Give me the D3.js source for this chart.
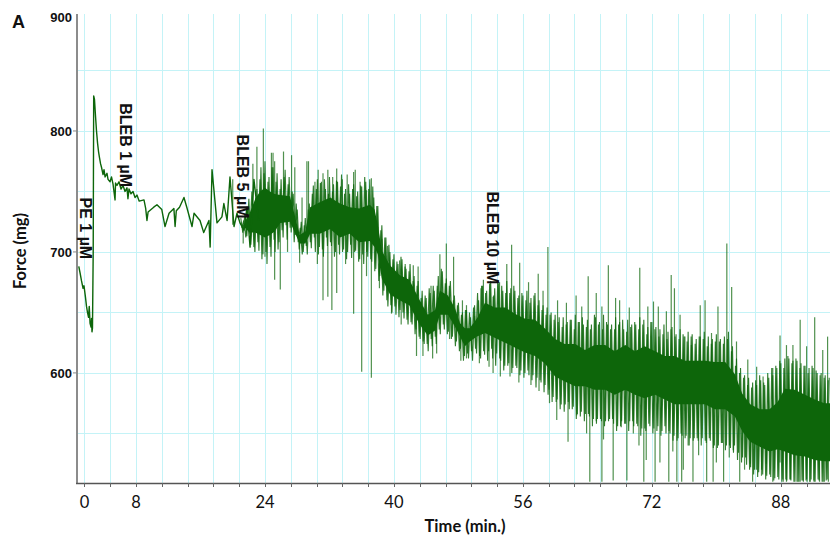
<!DOCTYPE html>
<html><head><meta charset="utf-8">
<script src="https://cdn.jsdelivr.net/npm/d3@7"></script>
<style>body{margin:0;background:#fff}svg{display:block}</style>
</head><body><svg id="c" width="830" height="537"></svg>
<script>
// ---- data (minutes, mg) ----
const earlyT = [0.9,1.05,1.24,1.43,1.55,1.74,1.86,1.98,2.11,2.2,2.3,2.42,2.48,2.54,2.6,2.69,2.75,2.85,2.98,3.1,3.23,3.35,3.47,3.6,3.72,3.91,4.03,4.16,4.4,4.53,4.78,4.96,5.15,5.4,5.46,5.64,5.89,6.14,6.39,6.64,6.88,7.0,7.13,7.38,7.63,7.88,8.12,8.4,8.99,9.2,9.36,9.5,10.2,10.6,11.2,11.6,12.1,12.7,12.85,13.0,13.4,13.95,14.3,14.95,15.2,15.94,16.4,17.05,17.2,17.43,18.05,18.66,18.9,19.3,19.66,20.16,20.53,20.9,21.4,21.77,22.15,22.63,23.2];
const earlyV = [688,683,676,670,672,662,655,650,646,655,641,638,645,634,637,700,829,826,812,800,790,783,778,773,770,764,768,762,765,760,758,762,756,743,757,755,758,752,755,750,753,744,752,748,750,745,747,742,743,736,726,733,737,739,735,721,732,736,721,734,737,745,737,721,732,726,716,726,704,768,724,729,740,726,762,721,732,724,718,737,704,760,726];

// dense core of the noisy trace (upper / lower edge)
const coreT  = [21.5,22.1,22.8,23.4,24.0,24.6,25.2,25.9,27.1,28.3,29.0,29.6,30.8,32.1,33.3,34.5,35.7,37.0,37.6,38.0,38.5,39.5,40.7,41.9,43.2,44.2,45.1,45.7,46.7,47.6,48.2,48.8,49.4,50.3,51.3,52.5,53.8,55.0,56.2,57.5,58.7,60.0,61.2,62.5,63.7,64.9,66.2,67.4,68.7,69.9,71.1,72.4,73.6,74.8,76.1,77.3,78.6,79.8,81.1,82.3,83.2,84.2,85.4,86.6,87.6,88.5,89.7,91.0,92.2,93.4,94.1];
const coreHi = [725,732,744,750,753,750,748,747,746,714,717,737,741,745,740,737,736,739,735,722,701,689,681,677,660,648,652,668,664,653,641,637,637,645,658,654,654,649,645,644,637,628,624,624,619,623,623,618,623,618,622,618,614,614,610,610,610,609,609,599,583,574,570,570,576,587,586,582,578,575,575];
const coreLo = [720,716,716,714,712,714,717,724,725,707,707,715,715,719,712,715,708,709,704,698,678,665,660,656,640,631,635,648,648,638,630,622,626,630,633,629,625,621,617,614,608,597,593,589,589,586,586,582,586,582,579,582,578,574,574,574,574,570,570,564,552,543,539,535,537,535,532,531,528,527,527];

// sampled trace (every 0.25 min from 21 min), alternating crests / troughs
const denseStart = 21.0, denseStep = 0.25;
const denseV = [
728,716,731,713, 744,706,739,700, 752,701,770,698, 775,690,762,696, 770,700,765,708,
760,712,768,710, 762,716,748,714, 735,702,725,700, 728,698,740,703, 755,700,760,704,
758,696,752,705, 762,705,756,700, 758,698,764,702, 752,700,748,695, 756,701,750,694,
754,690,758,696, 760,692,745,686, 738,680,722,668, 712,655,700,650, 698,648,690,652,
694,645,686,640, 690,640,680,636, 676,628,668,624, 662,618,666,622, 668,624,680,632,
684,636,678,634, 676,630,664,626, 658,620,650,614, 652,612,646,610, 656,616,660,612,
672,615,668,618, 676,612,670,616, 674,610,668,606, 676,608,670,604, 668,604,664,602,
664,600,668,598, 662,598,666,596, 660,592,656,590, 654,586,650,580, 648,578,646,574,
646,574,642,570, 644,572,648,566, 642,568,640,566, 644,564,640,562, 646,562,642,560,
648,560,640,562, 640,558,646,556, 642,560,636,558, 644,560,640,556, 640,556,646,554,
644,552,638,556, 642,554,638,556, 636,552,640,550, 634,550,638,548, 632,546,636,548,
630,548,634,546, 632,546,628,544, 630,546,634,542, 630,544,628,540, 632,540,628,542,
630,540,634,538, 622,540,612,534, 604,530,598,524, 596,522,592,520, 590,518,594,516,
590,515,596,514, 598,513,604,512, 608,512,612,511, 612,511,610,510, 610,510,608,511,
606,510,604,512, 604,510,600,511, 600,510,598,512, 596];

// second sampled trace, offset by 0.125 min, alternating troughs / crests
const dense2Start = 21.125, dense2Step = 0.25;
const dense2V = [
720,726,712,735, 715,750,704,745, 708,760,694,765, 700,758,704,770, 710,758,702,752,
718,762,722,756, 720,750,708,740, 708,720,698,722, 705,735,708,748, 712,752,698,757,
702,760,712,748, 708,750,696,759, 706,754,700,748, 694,756,706,752, 700,746,692,755,
698,762,700,752, 694,754,684,738, 676,718,664,712, 660,706,656,694, 655,692,646,696,
650,688,644,684, 642,676,632,672, 630,662,626,664, 624,670,628,672, 630,672,636,686,
640,674,632,672, 628,660,622,656, 618,648,610,652, 616,650,618,654, 620,666,614,672,
618,666,610,674, 620,664,606,676, 612,672,602,666, 606,666,600,672, 606,662,598,666,
596,660,602,658, 594,664,588,656, 594,652,584,648, 582,648,576,644, 576,642,570,638,
568,640,576,644, 570,636,562,642, 564,646,560,638, 566,636,556,648, 558,640,562,636,
556,642,560,636, 562,636,552,640, 556,644,558,634, 552,638,560,642, 558,636,548,640,
554,632,558,642, 550,636,552,630, 548,632,556,628, 552,636,544,630, 544,628,550,632,
546,626,540,630, 544,624,546,630, 540,628,544,622, 546,624,538,626, 538,626,542,624,
536,628,540,618, 534,606,528,600, 526,596,530,590, 520,588,516,594, 514,598,520,592,
512,600,516,604, 511,606,514,610, 510,604,512,614, 512,608,510,612, 510,604,511,606,
511,600,510,606, 510,602,512,598, 510,596,511,594];

const spikeUpT = [20.0,22.5,23.0,23.8,24.8,25.0,25.2,26.3,27.3,27.7,28.6,29.2,29.4,30.2,30.6,31.2,31.8,32.4,32.9,33.6,34.2,35.0,35.2,35.8,36.6,37.2,38.5,39.2,40.7,41.4,42.4,43.0,44.6,45.7,46.5,47.4,48.5,49.0,50.0,50.8,51.1,52.3,53.1,54.0,54.6,55.6,56.7,57.9,58.5,59.1,60.3,61.4,62.6,63.3,64.1,65.1,65.8,66.6,67.5,68.0,69.2,70.5,71.5,72.2,72.8,73.8,74.4,74.8,75.5,76.1,76.9,78.0,78.6,79.4,80.2,81.3,81.9,82.5,83.9,85.0,85.8,87.0,87.9,88.7,89.5,90.4,91.2,92.2,93.2,93.8];
const spikeUpV = [760,773,787,802,782,782,775,783,780,770,745,775,775,758,768,765,768,762,769,760,764,766,768,758,751,761,711,705,693,690,689,688,672,698,707,696,660,656,647,670,677,663,675,690,706,691,675,682,668,704,660,658,664,655,680,666,655,689,662,660,654,687,655,659,655,651,681,670,648,630,623,656,660,633,655,707,671,626,611,605,597,604,631,623,623,644,622,646,619,630];
const spikeDnT = [21.3,24.0,25.2,25.9,26.8,28.3,30.5,31.2,31.8,32.3,32.9,34.0,35.0,36.0,36.6,37.2,38.2,39.7,40.9,42.8,43.6,44.8,45.3,46.9,48.3,49.0,50.6,51.8,52.3,53.2,54.4,55.5,57.0,58.0,59.3,60.2,61.6,62.7,63.9,64.3,65.1,65.8,66.0,67.2,68.2,68.9,69.7,70.4,71.0,71.3,72.4,73.0,74.1,74.6,75.1,75.7,75.9,76.5,77.1,77.8,78.8,79.6,80.0,80.9,81.6,82.1,82.9,83.5,84.2,84.5,85.0,85.6,86.2,87.0,87.9,88.3,88.7,89.2,90.0,90.4,90.8,91.2,91.6,92.1,92.8,93.4,93.9];
const spikeDnV = [707,696,677,669,700,691,690,660,663,652,666,690,649,601,680,596,670,649,640,614,614,612,616,628,610,612,608,605,600,597,597,592,590,585,575,561,543,565,550,510,560,510,545,511,555,511,550,540,510,528,510,526,510,535,510,510,520,540,510,532,510,510,526,510,530,536,510,520,525,510,520,515,525,510,526,510,510,512,510,510,510,512,510,511,510,510,510];

const annoText = ["PE 1 µM","BLEB 1 µM","BLEB 5 µM","BLEB 10 µM"];
const annoT    = [1.05, 6.0, 20.5, 51.5];
const annoV    = [745, 823, 797, 750];

const xTickValues = [1.6, 8, 24, 40, 56, 72, 88];
const xTickLabels = ["0","8","24","40","56","72","88"];
const yTickValues = [600, 700, 800, 900];
const yTickLabels = ["600","700","800","900"];

// ---- chart ----
const svg = d3.select("#c");
const L = 77, R = 830, T = 14, B = 483;
const x = d3.scaleLinear().domain([0.68, 94.1]).range([L, R]);
const y = d3.scaleLinear().domain([509, 900]).range([B, 10]);
const green = "#0d660a";

svg.append("defs").append("clipPath").attr("id","clip")
  .append("rect").attr("x",L).attr("y",T).attr("width",R-L).attr("height",B-T);

// grid
const gridX = d3.range(1.6, 94.1, 3.2);
const gridY = d3.range(550, 851, 50);
const g = svg.append("g").attr("stroke","#c4f3f7").attr("stroke-width",1);
g.selectAll(".gx").data(gridX).join("line")
  .attr("x1",d=>Math.round(x(d))+0.5).attr("x2",d=>Math.round(x(d))+0.5).attr("y1",T).attr("y2",B);
g.selectAll(".gy").data(gridY).join("line")
  .attr("x1",L).attr("x2",R).attr("y1",d=>Math.round(y(d))+0.5).attr("y2",d=>Math.round(y(d))+0.5);

const plot = svg.append("g").attr("clip-path","url(#clip)");

const midV = coreT.map((t,i)=>(coreHi[i]+coreLo[i])/2);
const mid = d3.scaleLinear().domain(coreT).range(midV).clamp(true);

// spikes
const sp = plot.append("g").attr("stroke",green).attr("stroke-width",1.2).attr("stroke-opacity",0.72);
const spikes = spikeUpT.map((t,i)=>[t,spikeUpV[i]]).concat(spikeDnT.map((t,i)=>[t,spikeDnV[i]]));
sp.selectAll("line").data(spikes).join("line")
  .attr("x1",d=>x(d[0])).attr("x2",d=>x(d[0]))
  .attr("y1",d=>y(mid(d[0]))).attr("y2",d=>y(d[1]));

// dense sampled traces
const line = d3.line().x(d=>x(d[0])).y(d=>y(d[1]));
plot.append("path").datum(denseV.map((v,i)=>[denseStart+i*denseStep, v])).attr("d",line)
  .attr("fill","none").attr("stroke",green).attr("stroke-width",1.1).attr("stroke-opacity",0.85);
plot.append("path").datum(dense2V.map((v,i)=>[dense2Start+i*dense2Step, v])).attr("d",line)
  .attr("fill","none").attr("stroke",green).attr("stroke-width",1.1).attr("stroke-opacity",0.85);

// dense core
const area = d3.area().x((d,i)=>x(coreT[i])).y0((d,i)=>y(coreLo[i])).y1((d,i)=>y(coreHi[i]));
plot.append("path").datum(coreT).attr("d",area).attr("fill",green);

// early trace
plot.append("path").datum(earlyT.map((t,i)=>[t,earlyV[i]])).attr("d",line)
  .attr("fill","none").attr("stroke",green).attr("stroke-width",1.4).attr("stroke-linejoin","round");

// axes
svg.append("line").attr("x1",L).attr("x2",L).attr("y1",T).attr("y2",B)
  .attr("stroke","#8c8c8c").attr("stroke-width",2);
svg.append("line").attr("x1",L-1).attr("x2",R).attr("y1",B+0.5).attr("y2",B+0.5)
  .attr("stroke","#555").attr("stroke-width",1.5);
svg.append("g").selectAll("line").data(gridX).join("line")
  .attr("x1",d=>Math.round(x(d))+0.5).attr("x2",d=>Math.round(x(d))+0.5)
  .attr("y1",B).attr("y2",B+4).attr("stroke","#666").attr("stroke-width",1);
svg.append("g").selectAll("text").data(xTickValues).join("text")
  .attr("x",d=>x(d)).attr("y",508).attr("text-anchor","middle")
  .attr("font-family","Lato, 'Open Sans', sans-serif").attr("font-size",16.5).attr("fill","#111")
  .text((d,i)=>xTickLabels[i]);
svg.append("g").selectAll("line").data(yTickValues.filter(v=>v<900)).join("line")
  .attr("x1",L-4).attr("x2",L).attr("y1",d=>y(d)).attr("y2",d=>y(d)).attr("stroke","#888");
svg.append("g").selectAll("text").data(yTickValues).join("text")
  .attr("x",72).attr("y",d=>Math.max(y(d),17)+5).attr("text-anchor","end")
  .attr("font-family","'Liberation Sans', Arial, sans-serif").attr("font-weight","bold")
  .attr("font-size",13).attr("fill","#111").text((d,i)=>yTickLabels[i]);

// titles
svg.append("text").attr("x",465).attr("y",532).attr("text-anchor","middle")
  .attr("font-family","Lato, sans-serif").attr("font-weight","bold").attr("font-size",16.5)
  .attr("fill","#111").text("Time (min.)");
svg.append("text").attr("transform","translate(26,251) rotate(-90)").attr("text-anchor","middle")
  .attr("font-family","Lato, sans-serif").attr("font-weight","bold").attr("font-size",16.5)
  .attr("fill","#111").text("Force (mg)");
svg.append("text").attr("x",12).attr("y",28)
  .attr("font-family","'Liberation Sans', Arial, sans-serif").attr("font-weight","bold").attr("font-size",18)
  .attr("fill","#111").text("A");

// annotations
svg.append("g").selectAll("text").data(annoText).join("text")
  .attr("transform",(d,i)=>`translate(${x(annoT[i])},${y(annoV[i])}) rotate(90)`)
  .attr("font-family","'Liberation Sans', Arial, sans-serif").attr("font-weight","bold")
  .attr("font-size",16).attr("fill","#111").text(d=>d);
</script></body></html>
